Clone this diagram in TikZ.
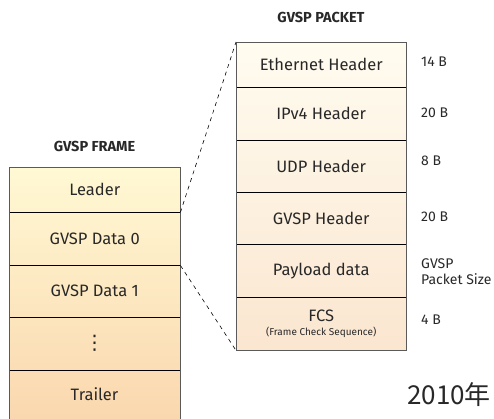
\documentclass[tikz,border=0pt]{standalone}
\usepackage{fontspec}
\setmainfont{Fira Sans}
\newfontfamily\cjkfont{Noto Sans CJK SC}
\newfontfamily\symfont{DejaVu Sans}
\definecolor{lA}{RGB}{255,249,212}
\definecolor{lB}{RGB}{250,215,174}
\definecolor{pA}{RGB}{255,252,240}
\definecolor{pB}{RGB}{251,230,208}
\definecolor{txt}{RGB}{40,40,40}
\definecolor{edge}{RGB}{90,90,90}
\begin{document}
\begin{tikzpicture}[x=1pt,y=-1pt,
  cell/.style={rectangle,inner sep=0pt,minimum width=171pt,text=txt,font=\fontsize{16.5}{19}\selectfont,anchor=north west},
  pcell/.style={rectangle,inner sep=0pt,minimum width=170pt,text=txt,font=\fontsize{16.5}{19}\selectfont,anchor=north west},
  sep/.style={black,line width=1.4pt},
  outer/.style={edge,line width=0.8pt},
  size/.style={anchor=west,text=txt,font=\fontsize{14}{16}\selectfont,align=left,inner sep=0pt},
  ttl/.style={text=txt,font=\fontsize{14.5}{17}\selectfont\bfseries,inner sep=0pt},
  zoomline/.style={black,line width=0.6pt,dash pattern=on 4pt off 4pt}]
\clip (0,0) rectangle (494,419);
% frame
\node[cell,minimum height=45pt,top color={lB!0!lA},bottom color={lB!18!lA}] (leader) at (9,167) {Leader};
\node[cell,minimum height=53pt,top color={lB!18!lA},bottom color={lB!39!lA}] (data0) at (9,212) {GVSP Data 0};
\node[cell,minimum height=52pt,top color={lB!39!lA},bottom color={lB!60!lA}] (data1) at (9,265) {GVSP Data 1};
\node[cell,minimum height=53pt,top color={lB!60!lA},bottom color={lB!81!lA},font=\symfont\fontsize{20}{22}\selectfont] (dots) at (9,317) {⋮};
\node[cell,minimum height=55pt,top color={lB!81!lA},bottom color={lB!100!lA}] (trailer) at (9,370) {};
\node[text=txt,font=\fontsize{16.5}{19}\selectfont,inner sep=0pt] (trailertext) at (94.5,394) {Trailer};
\foreach \n in {leader,data0,data1,dots}{\draw[sep] (\n.south west) -- (\n.south east);}
\draw[outer] (leader.north west) rectangle (trailer.south east);
\node[ttl] (ftitle) at (94.5,146) {GVSP FRAME};
% packet
\node[pcell,minimum height=45pt,top color={pB!0!pA},bottom color={pB!15!pA}] (eth) at (236,42) {Ethernet Header};
\node[pcell,minimum height=53pt,top color={pB!15!pA},bottom color={pB!32!pA}] (ip) at (236,87) {IPv4 Header};
\node[pcell,minimum height=52pt,top color={pB!32!pA},bottom color={pB!49!pA}] (udp) at (236,140) {UDP Header};
\node[pcell,minimum height=52pt,top color={pB!49!pA},bottom color={pB!66!pA}] (gvsp) at (236,192) {GVSP Header};
\node[pcell,minimum height=53pt,top color={pB!66!pA},bottom color={pB!83!pA}] (pay) at (236,244) {Payload data};
\node[pcell,minimum height=53pt,top color={pB!83!pA},bottom color={pB!100!pA},align=center] (fcs) at (236,297) {FCS\\[-5pt]{\fontsize{10}{12}\selectfont (Frame Check Sequence)}};
\foreach \n in {eth,ip,udp,gvsp,pay}{\draw[sep] (\n.south west) -- (\n.south east);}
\draw[outer] (eth.north west) rectangle (fcs.south east);
\node[ttl] (ptitle) at (321,17) {GVSP PACKET};
% sizes
\node[size] (s1) at (421,62) {14 B};
\node[size] (s2) at (421,113) {20 B};
\node[size] (s3) at (421,161) {8 B};
\node[size] (s4) at (421,217) {20 B};
\node[size] (s5) at (421,272) {GVSP\\Packet Size};
\node[size] (s6) at (421,320) {4 B};
% zoom lines
\draw[zoomline] (leader.south east) -- (eth.north west);
\draw[zoomline] (data0.south east) -- (fcs.south west);
% stray text
\node[anchor=west,inner sep=0pt,text=txt,font=\cjkfont\fontsize{26}{30}\selectfont] (yr) at (407,395) {2010年};
\end{tikzpicture}
\end{document}
